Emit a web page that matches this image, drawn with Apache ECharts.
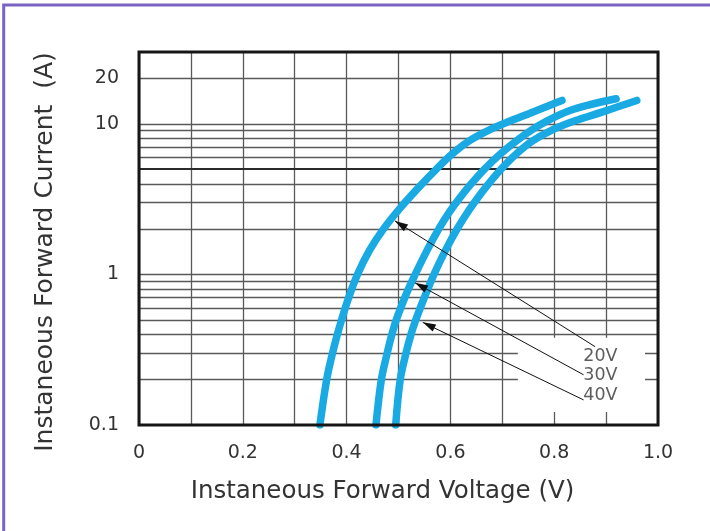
<!DOCTYPE html>
<html>
<head>
<meta charset="utf-8">
<script src="https://cdn.jsdelivr.net/npm/echarts@6/dist/echarts.min.js"></script>
<style>
html,body{margin:0;padding:0;background:#fff;}
#chart{width:710px;height:531px;}
</style>
</head>
<body>
<div id="chart"></div>
<script>
// ---- data ----
const xTickLabels = [0, 0.2, 0.4, 0.6, 0.8, 1.0];
const yTickLabels = [0.1, 1, 10, 20];
const yGridValues = [0.2, 0.3, 0.4, 0.5, 0.6, 0.7, 0.8, 0.9, 1, 2, 3, 4, 5, 6, 7, 8, 9, 10, 20];
const yBoldGrid = [5];

const curveNames = ['20V', '30V', '40V'];
const curve20V = [[0.3486,0.1],[0.3616,0.2],[0.3729,0.3],[0.3823,0.4],[0.3904,0.5],[0.4039,0.7],[0.4209,1.0],[0.4441,1.445],[0.4709,2.0],[0.5048,2.80],[0.5413,3.86],[0.5731,5.01],[0.6036,6.31],[0.6362,7.70],[0.6753,9.12],[0.7162,10.47],[0.7556,11.84],[0.7942,13.39],[0.8150,14.30]];
const curve30V = [[0.4566,0.1],[0.4670,0.2],[0.4782,0.3],[0.4873,0.4],[0.4958,0.5],[0.5120,0.7],[0.5245,0.88],[0.5550,1.445],[0.5774,2.0],[0.5980,2.59],[0.6161,3.16],[0.6362,3.86],[0.6657,5.01],[0.6962,6.31],[0.7269,7.70],[0.7569,9.12],[0.7865,10.47],[0.8289,12.21],[0.8682,13.39],[0.9192,14.68]];
const curve40V = [[0.4946,0.1],[0.5033,0.2],[0.5145,0.3],[0.5241,0.4],[0.5334,0.5],[0.5496,0.7],[0.5683,1.0],[0.5905,1.445],[0.6128,2.0],[0.6331,2.59],[0.6507,3.16],[0.6700,3.86],[0.6979,5.01],[0.7269,6.31],[0.7583,7.70],[0.7965,9.12],[0.8399,10.47],[0.8920,11.97],[0.9284,13.18],[0.9591,14.30]];

const labelAnchors = [[0.855,0.286],[0.855,0.213],[0.855,0.157]];
const arrowStarts = [[0.879,0.331],[0.8566,0.2155],[0.8566,0.1468]];
const arrowTips = [[0.4932,2.266],[0.5318,0.88],[0.5467,0.4804]];
const blankBox = [[0.73,0.122],[0.975,0.38]];

// ---- styling ----
const FONT = 'DejaVu Sans';
const TEXT = '#333333';
const GRID = '#5a5a5a';
const CURVE = '#19a9e3';

const chart = echarts.init(document.getElementById('chart'), null, {renderer: 'canvas'});

const curves = [curve20V, curve30V, curve40V];

const option = {
  backgroundColor: '#ffffff',
  animation: false,
  graphic: [{
    type: 'rect', z: 100,
    shape: {x: 3.7, y: 5, width: 1000, height: 1000},
    style: {fill: 'none', stroke: '#7b63c4', lineWidth: 3},
    silent: true
  }],
  grid: {
    left: 139, right: 52, top: 52, bottom: 106,
    show: true, borderColor: '#161616', borderWidth: 3,
    backgroundColor: 'transparent', z: 10
  },
  xAxis: {
    type: 'value', min: 0, max: 1, interval: 0.1,
    name: 'Instaneous Forward Voltage (V)',
    nameLocation: 'middle', nameGap: 54,
    nameTextStyle: {fontFamily: FONT, fontSize: 24.5, color: TEXT, padding: [0, 32, 0, 0]},
    axisLine: {show: false}, axisTick: {show: false},
    axisLabel: {
      customValues: xTickLabels,
      margin: 19, fontFamily: FONT, fontSize: 19, color: TEXT,
      formatter: v => (v === 0 ? '0' : v.toFixed(1))
    },
    splitLine: {show: true, lineStyle: {color: GRID, width: 1.3}}
  },
  yAxis: {
    type: 'log', logBase: 10, min: 0.1, max: 30,
    name: 'Instaneous Forward Current  (A)',
    nameLocation: 'middle', nameGap: 81, nameRotate: 90,
    nameTextStyle: {fontFamily: FONT, fontSize: 25, color: TEXT, padding: [0, 27, 0, 0]},
    axisLine: {show: false}, axisTick: {show: false},
    axisLabel: {
      customValues: yTickLabels,
      margin: 20, fontFamily: FONT, fontSize: 19, color: TEXT,
      formatter: v => String(+Number(v).toPrecision(6))
    },
    splitLine: {show: false}
  },
  series: [
    {
      type: 'line', name: 'gridlines', data: [], silent: true,
      markLine: {
        z: 1, silent: true, symbol: ['none', 'none'], animation: false,
        label: {show: false},
        data: yGridValues.map(v => ({
          yAxis: v,
          lineStyle: yBoldGrid.includes(v)
            ? {color: '#2a2a2a', width: 2, type: 'solid'}
            : {color: GRID, width: 1.3, type: 'solid'}
        }))
      }
    },
    {
      type: 'line', name: 'blank', data: [], silent: true,
      markArea: {
        z: 2, silent: true,
        itemStyle: {color: '#ffffff'},
        data: [[{coord: blankBox[0]}, {coord: blankBox[1]}]]
      }
    },
    ...curves.map((d, i) => ({
      type: 'line', name: curveNames[i], data: d, z: 3,
      smooth: 0.35, showSymbol: false, silent: true,
      lineStyle: {color: CURVE, width: 7.5, cap: 'round', join: 'round'}
    })),
    {
      type: 'line', name: 'arrows', data: [], silent: true,
      markLine: {
        z: 5, silent: true, animation: false,
        symbol: ['none', 'triangle'], symbolSize: [8, 13],
        symbolOffset: [0, [0, 6.5]],
        label: {show: false},
        lineStyle: {color: '#111', width: 1, type: 'solid'},
        data: arrowStarts.map((s, i) => [{coord: s}, {coord: arrowTips[i]}])
      }
    },
    {
      type: 'scatter', name: 'labels', z: 6, silent: true,
      symbolSize: 1, itemStyle: {color: 'rgba(0,0,0,0)'},
      data: labelAnchors.map((p, i) => [p[0], p[1], curveNames[i]]),
      label: {
        show: true, position: 'right', distance: 0,
        fontFamily: FONT, fontSize: 17.5, color: TEXT,
        formatter: p => p.data[2]
      }
    }
  ]
};
chart.setOption(option);
</script>
</body>
</html>
